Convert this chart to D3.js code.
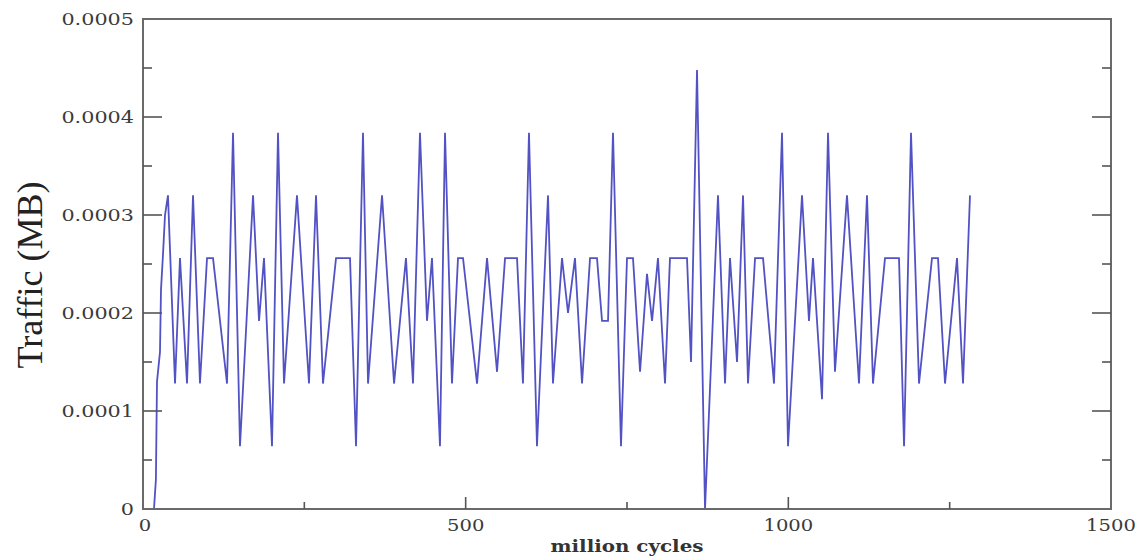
<!DOCTYPE html>
<html>
<head>
<meta charset="utf-8">
<script src="https://cdn.jsdelivr.net/npm/d3@7"></script>
<style>
  html, body { margin: 0; padding: 0; background: #fff; }
  svg { display: block; }
</style>
</head>
<body>
<svg id="chart" width="1143" height="557"></svg>
<script>
// million cycles at each turning point of the traffic trace
const cycles = [
  17, 20, 21.7, 26.3, 27.9, 31, 34.1, 38.7, 49.6, 57.3, 68.2, 77.5, 88.3, 99.2, 108.5, 130.2,
  139.5, 150.3, 170.5, 179.8, 187.5, 199.9, 209.2, 218.5, 238.6, 257.2, 268.1, 278.9, 299.1,
  320.8, 330.1, 340.9, 348.7, 370.4, 389, 407.5, 418.4, 429.2, 440.1, 447.8, 460.2, 468,
  478.8, 488.1, 495.9, 517.6, 533.1, 548.6, 561, 579.6, 588.8, 598.1, 610.5, 627.6, 635.3,
  649.3, 658.6, 669.4, 680.3, 692.7, 703.5, 711.3, 720.6, 728.3, 740.7, 750, 759.3, 770.2,
  781, 788.8, 798, 808.9, 816.6, 843, 849.2, 858.5, 870.9, 891, 901.9, 909.6, 920.5, 929.8,
  937.5, 948.4, 960.8, 977.8, 990.2, 999.5, 1021.2, 1032, 1038.2, 1052.2, 1061.5, 1072.3,
  1090.9, 1109.5, 1121.9, 1131.2, 1149.8, 1171.5, 1179.3, 1190.1, 1202.5, 1222.6, 1231.9,
  1242.8, 1261.4, 1270.7, 1281.5
];
// traffic (MB) at those points
const traffic = [
  0, 0.00003, 0.00013, 0.00016, 0.000224, 0.00026, 0.0003, 0.00032, 0.000128, 0.000256,
  0.000128, 0.00032, 0.000128, 0.000256, 0.000256, 0.000128, 0.000384, 0.000064, 0.00032,
  0.000192, 0.000256, 0.000064, 0.000384, 0.000128, 0.00032, 0.000128, 0.00032, 0.000128,
  0.000256, 0.000256, 0.000064, 0.000384, 0.000128, 0.00032, 0.000128, 0.000256, 0.000128,
  0.000384, 0.000192, 0.000256, 0.000064, 0.000384, 0.000128, 0.000256, 0.000256, 0.000128,
  0.000256, 0.00014, 0.000256, 0.000256, 0.000128, 0.000384, 0.000064, 0.00032, 0.000128,
  0.000256, 0.0002, 0.000256, 0.000128, 0.000256, 0.000256, 0.000192, 0.000192, 0.000384,
  0.000064, 0.000256, 0.000256, 0.00014, 0.00024, 0.000192, 0.000256, 0.000128, 0.000256,
  0.000256, 0.00015, 0.000448, 0, 0.00032, 0.000128, 0.000256, 0.00015, 0.00032, 0.000128,
  0.000256, 0.000256, 0.000128, 0.000384, 0.000064, 0.00032, 0.000192, 0.000256, 0.000112,
  0.000384, 0.00014, 0.00032, 0.000128, 0.00032, 0.000128, 0.000256, 0.000256, 0.000064,
  0.000384, 0.000128, 0.000256, 0.000256, 0.000128, 0.000256, 0.000128, 0.00032
];

const xTicks = [0, 500, 1000, 1500];
const xMinor = [250, 750, 1250];
const yTicks = [0, 0.0001, 0.0002, 0.0003, 0.0004, 0.0005];
const yMinor = [0.00005, 0.00015, 0.00025, 0.00035, 0.00045];

const svg = d3.select('#chart');
const m = {left: 143, right: 1111, top: 19, bottom: 509};

const x = d3.scaleLinear().domain([0, 1500]).range([m.left, m.right]);
const y = d3.scaleLinear().domain([0, 0.0005]).range([m.bottom, m.top]);

const data = cycles.map((c, i) => ({c, v: traffic[i]}));

// trace
svg.append('path')
  .datum(data)
  .attr('fill', 'none')
  .attr('stroke', '#5252c4')
  .attr('stroke-width', 1.8)
  .attr('stroke-linejoin', 'miter')
  .attr('d', d3.line().x(d => x(d.c)).y(d => y(d.v)));

// frame
svg.append('rect')
  .attr('x', m.left).attr('y', m.top)
  .attr('width', m.right - m.left).attr('height', m.bottom - m.top)
  .attr('fill', 'none').attr('stroke', '#6a6a6a').attr('stroke-width', 2);

const tickCol = '#555';
// y ticks, both sides, pointing in
const gy = svg.append('g').attr('stroke', tickCol).attr('stroke-width', 1.6);
yTicks.slice(1, -1).forEach(v => {
  gy.append('line').attr('x1', m.left).attr('x2', m.left + 19).attr('y1', y(v)).attr('y2', y(v));
  gy.append('line').attr('x1', m.right).attr('x2', m.right - 19).attr('y1', y(v)).attr('y2', y(v));
});
yMinor.forEach(v => {
  gy.append('line').attr('x1', m.left).attr('x2', m.left + 9).attr('y1', y(v)).attr('y2', y(v));
  gy.append('line').attr('x1', m.right).attr('x2', m.right - 9).attr('y1', y(v)).attr('y2', y(v));
});

// x ticks, bottom only
const gx = svg.append('g').attr('stroke', tickCol).attr('stroke-width', 1.6);
xTicks.slice(1, -1).forEach(v => {
  gx.append('line').attr('x1', x(v)).attr('x2', x(v)).attr('y1', m.bottom).attr('y2', m.bottom - 12);
});
xMinor.forEach(v => {
  gx.append('line').attr('x1', x(v)).attr('x2', x(v)).attr('y1', m.bottom).attr('y2', m.bottom - 7);
});

// labels: the original looks horizontally stretched, so widen glyphs a bit
function stretch(sel, k){
  sel.each(function(){
    const w = this.getComputedTextLength();
    d3.select(this).attr('textLength', w * k).attr('lengthAdjust', 'spacingAndGlyphs');
  });
}

const fmtY = v => v === 0 ? '0' : v.toFixed(4);
const yl = svg.append('g').selectAll('text').data(yTicks).join('text')
  .attr('x', m.left - 9)
  .attr('y', d => y(d) + 6)
  .attr('text-anchor', 'end')
  .attr('font-family', 'DejaVu Serif')
  .attr('font-size', 17)
  .attr('fill', '#3a3a3a')
  .text(fmtY);
stretch(yl, 1.22);

const xl = svg.append('g').selectAll('text').data(xTicks).join('text')
  .attr('x', d => x(d) + (d === 0 ? 2 : 0))
  .attr('y', 531)
  .attr('text-anchor', 'middle')
  .attr('font-family', 'DejaVu Serif')
  .attr('font-size', 17)
  .attr('fill', '#3a3a3a')
  .text(d => d);
stretch(xl, 1.15);

svg.append('text')
  .attr('x', (m.left + m.right) / 2)
  .attr('y', 552)
  .attr('text-anchor', 'middle')
  .attr('font-family', 'DejaVu Serif')
  .attr('font-weight', 'bold')
  .attr('font-size', 16)
  .attr('fill', '#333')
  .attr('textLength', 153)
  .attr('lengthAdjust', 'spacingAndGlyphs')
  .text('million cycles');

svg.append('text')
  .attr('transform', 'translate(42,275) rotate(-90)')
  .attr('text-anchor', 'middle')
  .attr('font-family', 'Liberation Serif')
  .attr('font-size', 36)
  .attr('fill', '#222')
  .text('Traffic (MB)');
</script>
</body>
</html>
